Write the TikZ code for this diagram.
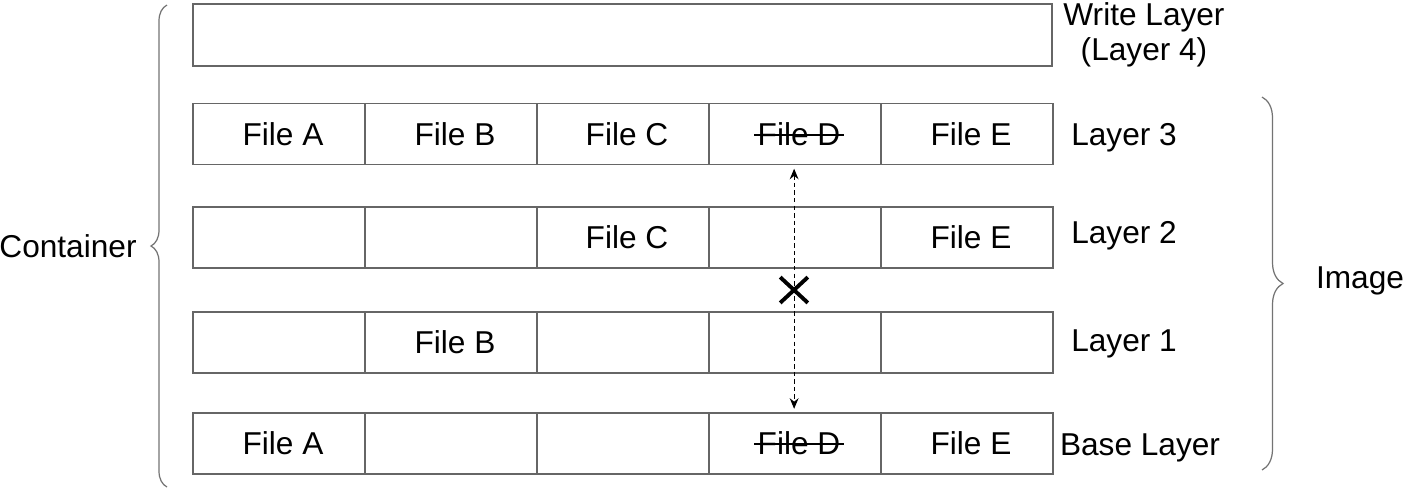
\documentclass[tikz,border=0pt]{standalone}
\usepackage{fontspec}
\setmainfont{Liberation Sans}
\usetikzlibrary{decorations.pathreplacing,arrows.meta}
\tikzset{
  cell/.style={draw=black!60, line width=0.8pt, minimum width=3.44cm, minimum height=1.22cm, inner sep=0pt},
  lbl/.style={inner sep=0pt, align=center},
  brc/.style={draw=black!55, line width=0.7pt, decorate, decoration={brace, amplitude=#1}},
}
\newsavebox{\gonebox}
\newcommand{\gone}[1]{\sbox{\gonebox}{#1}\rlap{\hspace{-2pt}\rule[0.3em]{\dimexpr\wd\gonebox+4pt\relax}{1.2pt}}\usebox{\gonebox}}
\begin{document}
\begin{tikzpicture}[x=0.02cm, y=-0.02cm, >=Stealth, font=\fontsize{18}{20}\selectfont]
  \useasboundingbox (0,0) rectangle (1406,488);
  % write layer on top
  \node[cell, minimum width=17.18cm, minimum height=1.24cm] (w) at (622.5,35) {};
  % read-only layers
  \foreach \r/\y/\ta/\tb/\tc/\td/\te in {3/134/File A/File B/File C/\gone{File D}/File E,
      2/237.5/{}/{}/File C/{}/File E, 1/342.5/{}/File B/{}/{}/{}, 0/443.5/File A/{}/{}/\gone{File D}/File E}{
    \foreach \t [count=\i] in {\ta,\tb,\tc,\td,\te}
      \node[cell] (c\r-\i) at ({107+172*\i},\y) {\hspace{0.16cm}\t};
  }
  % labels
  \node[lbl] (l4) at (1144,35) {Write Layer\\(Layer 4)};
  \node[lbl] (l3) at (1124,138) {Layer 3};
  \node[lbl] (l2) at (1124,236) {Layer 2};
  \node[lbl] (l1) at (1124,344) {Layer 1};
  \node[lbl] (l0) at (1140,448) {Base Layer};
  \node[lbl] (ct) at (68,246) {Container};
  \node[lbl] (im) at (1360,281) {Image};
  % braces
  \coordinate (cb1) at (167,487);
  \coordinate (cb2) at (167,5);
  \draw[brc=0.32cm] (cb1) -- (cb2);
  \coordinate (ib1) at (1262,97);
  \coordinate (ib2) at (1262,470);
  \draw[brc=0.42cm] (ib1) -- (ib2);
  % hidden file
  \draw[<->, >={Stealth[length=6pt,width=5pt]}, line width=0.7pt, dash pattern=on 2.5pt off 1.8pt]
    ([xshift=-0.5pt,yshift=-2pt]c3-4.south) -- ([xshift=-0.5pt,yshift=2pt]c0-4.north);
  \node[minimum width=0.54cm, minimum height=0.5cm, inner sep=0pt] (nx) at (794,290) {};
  \draw[line width=2.2pt] (nx.north west) -- (nx.south east) (nx.north east) -- (nx.south west);
\end{tikzpicture}
\end{document}
